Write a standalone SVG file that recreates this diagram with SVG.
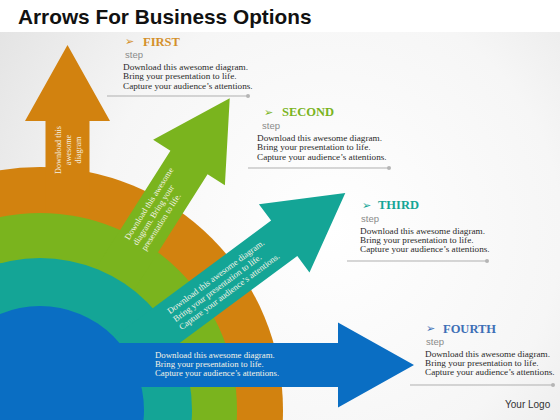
<svg xmlns="http://www.w3.org/2000/svg" xmlns:xlink="http://www.w3.org/1999/xlink" width="560" height="420" viewBox="0 0 560 420">
<defs>
<radialGradient id="bg" cx="330" cy="230" r="420" gradientUnits="userSpaceOnUse">
<stop offset="0" stop-color="#FFFFFF"/>
<stop offset="0.55" stop-color="#F6F6F6"/>
<stop offset="1" stop-color="#E0E0E0"/>
</radialGradient>
<polygon id="arrow" points="-340,-22 0,-22 0,-42.5 76,0 0,42.5 0,22 -340,22"/>
<style>
.title{font-family:"Liberation Sans",Arial,sans-serif;font-weight:bold;font-size:20.8px;fill:#111}
.head{font-family:"Liberation Serif","Times New Roman",serif;font-weight:bold;font-size:12.5px}
.bul{font-family:"DejaVu Sans",sans-serif;font-size:11px}
.step{font-family:"Liberation Sans",Arial,sans-serif;font-size:9.5px;fill:#8A8A8A}
.desc{font-family:"Liberation Serif","Times New Roman",serif;font-size:9.2px;fill:#2A2A2A}
.atxt{font-family:"Liberation Serif","Times New Roman",serif;fill:#F6F3E6}
.rule{stroke:#AFAFAF;stroke-width:1;fill:none}
.dot{fill:#B5B5B5}
.logo{font-family:"Liberation Sans",Arial,sans-serif;font-size:10px;fill:#333}
</style>
</defs>
<rect width="560" height="420" fill="url(#bg)"/>
<rect width="560" height="32" fill="#FFFFFF"/>
<text class="title" x="18" y="23.5">Arrows For Business Options</text>

<g id="orange-band">
<circle cx="40" cy="410" r="243" fill="#D2820F"/>
</g>
<g id="arrow-first">
<use xlink:href="#arrow" href="#arrow" transform="translate(67.5,121) rotate(-90)" fill="#D2820F"/>
<g transform="translate(67.5,121) rotate(-90)" class="atxt" font-size="8.2" text-anchor="middle">
<text x="-29" y="-7">Download this</text>
<text x="-29" y="3">awesome</text>
<text x="-29" y="13">diagram</text>
</g>
</g>
<g id="lime-band">
<circle cx="40" cy="410" r="197" fill="#7AB41E"/>
</g>
<g id="arrow-second">
<use xlink:href="#arrow" href="#arrow" transform="translate(189,162.5) rotate(-57.6)" fill="#7AB41E"/>
<g transform="translate(189,162.5) rotate(-57.6)" class="atxt" font-size="8.5">
<text x="-98" y="-9">Download this awesome</text>
<text x="-98" y="1">diagram. Bring your</text>
<text x="-98" y="11">presentation to life.</text>
</g>
</g>
<g id="teal-band">
<circle cx="40" cy="410" r="152" fill="#14A596"/>
</g>
<g id="arrow-third">
<use xlink:href="#arrow" href="#arrow" transform="translate(284.2,238.3) rotate(-36.5)" fill="#14A596"/>
<g transform="translate(284.2,238.3) rotate(-36.5)" class="atxt" font-size="8.7">
<text x="-137" y="-7">Download this awesome diagram.</text>
<text x="-137" y="3">Bring your presentation to life.</text>
<text x="-137" y="13">Capture your audience’s attentions.</text>
</g>
</g>
<g id="blue-band">
<circle cx="40" cy="410" r="104" fill="#0A6EC3"/>
</g>
<g id="arrow-fourth">
<use xlink:href="#arrow" href="#arrow" transform="translate(338,365)" fill="#0A6EC3"/>
<g class="atxt" font-size="8.8">
<text x="155" y="357.5">Download this awesome diagram.</text>
<text x="155" y="366.5">Bring your presentation to life.</text>
<text x="155" y="375.5">Capture your audience’s attentions.</text>
</g>
</g>

<g id="connectors">
<line class="rule" x1="107" y1="96" x2="248" y2="96"/><circle class="dot" cx="248" cy="96" r="2"/>
<line class="rule" x1="248" y1="168" x2="389" y2="168"/><circle class="dot" cx="389" cy="168" r="2"/>
<line class="rule" x1="347" y1="261" x2="487" y2="261"/><circle class="dot" cx="487" cy="261" r="2"/>
<line class="rule" x1="410" y1="385" x2="553" y2="385"/><circle class="dot" cx="553" cy="385" r="2"/>
</g>

<g id="label-first">
<text class="bul" x="125" y="45" fill="#D4902A">➢</text>
<text class="head" x="143" y="45.5" fill="#D4902A">FIRST</text>
<text class="step" x="125" y="58">step</text>
<text class="desc" x="123" y="69.5">Download this awesome diagram.</text>
<text class="desc" x="123" y="79">Bring your presentation to life.</text>
<text class="desc" x="123" y="88.5">Capture your audience’s attentions.</text>
</g>
<g id="label-second">
<text class="bul" x="264" y="115.5" fill="#7AB41E">➢</text>
<text class="head" x="282" y="116" fill="#7AB41E">SECOND</text>
<text class="step" x="262" y="128.5">step</text>
<text class="desc" x="257" y="140.5">Download this awesome diagram.</text>
<text class="desc" x="257" y="150">Bring your presentation to life.</text>
<text class="desc" x="257" y="159.5">Capture your audience’s attentions.</text>
</g>
<g id="label-third">
<text class="bul" x="362" y="208.5" fill="#14A596">➢</text>
<text class="head" x="378" y="209" fill="#14A596">THIRD</text>
<text class="step" x="361" y="221.5">step</text>
<text class="desc" x="360" y="234">Download this awesome diagram.</text>
<text class="desc" x="360" y="243">Bring your presentation to life.</text>
<text class="desc" x="360" y="252">Capture your audience’s attentions.</text>
</g>
<g id="label-fourth">
<text class="bul" x="426" y="332" fill="#3D6FB6">➢</text>
<text class="head" x="443" y="332.5" fill="#3D6FB6">FOURTH</text>
<text class="step" x="426" y="345">step</text>
<text class="desc" x="425" y="356.5">Download this awesome diagram.</text>
<text class="desc" x="425" y="365.5">Bring your presentation to life.</text>
<text class="desc" x="425" y="374.5">Capture your audience’s attentions.</text>
</g>
<g id="logo">
<text class="logo" x="505" y="408">Your Logo</text>
</g>
</svg>
